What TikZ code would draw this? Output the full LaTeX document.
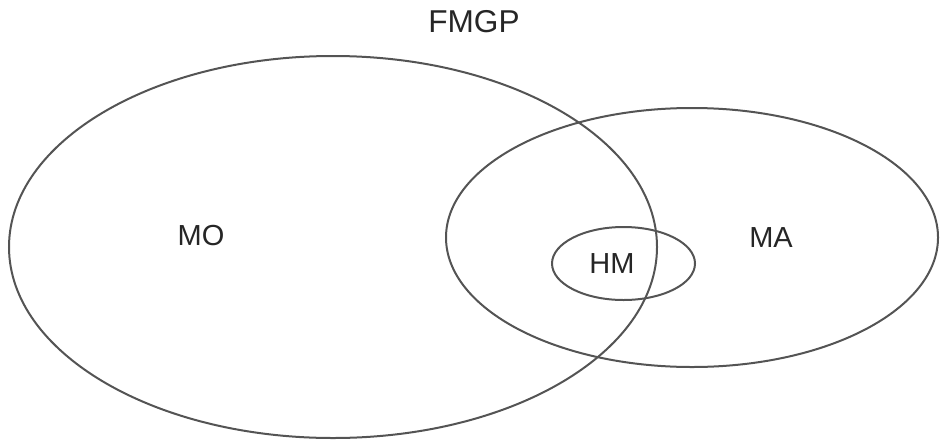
\documentclass[tikz,border=0pt]{standalone}
\usepackage{fontspec}
\setmainfont{Liberation Sans}
\usetikzlibrary{shapes.geometric}

\begin{document}
\begin{tikzpicture}[
    x=0.5pt, y=-0.5pt,
    set/.style={
        ellipse,
        draw=black!67,
        line width=1pt,
        inner sep=0pt
    },
    lbl/.style={
        inner sep=0pt,
        font=\fontsize{14.5}{17}\selectfont,
        text=black!85
    }
]
\useasboundingbox (0,0) rectangle (940,439);

% Verzamelingen (maten in pt = halve pixels)
\node[set, minimum width=324pt, minimum height=191pt] (mo) at (333,247) {};
\node[set, minimum width=246pt, minimum height=129.5pt] (ma) at (692,237.5) {};
\node[set, minimum width=71.5pt, minimum height=36.5pt] (hm) at (623.5,263.5) {};

% Labels
\node[lbl, font=\fontsize{15.8}{18}\selectfont] (fmgp) at (474,22) {FMGP};
\node[lbl] (tmo) at (201,236) {MO};
\node[lbl] (tma) at (771,238) {MA};
\node[lbl] (thm) at (612,264) {HM};

\end{tikzpicture}
\end{document}
